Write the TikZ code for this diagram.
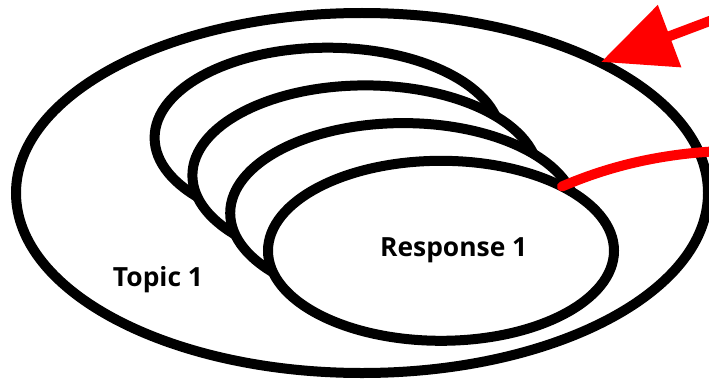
\documentclass[tikz,border=0pt]{standalone}
\usepackage{fontspec}
\setmainfont{Open Sans}
\usetikzlibrary{shapes.geometric,arrows.meta}

\begin{document}
\begin{tikzpicture}[x=0.75pt, y=-0.75pt,
  bubble/.style={ellipse, draw=black, fill=white, line width=7.5pt, inner sep=0pt, outer sep=0pt},
  lbl/.style={font=\fontsize{19.8}{23}\selectfont\bfseries, anchor=base},
  pointer/.style={draw=red, line width=7.5pt}]

% Page size (pixels of the original)
\useasboundingbox (0,0) rectangle (709,378);
\clip (0,0) rectangle (709,378);

% Define the centres of the ellipses
\coordinate (T) at (362,193);
\coordinate (A) at (327.6,137.7);
\coordinate (B) at (365.4,175.4);
\coordinate (C) at (403.2,213.1);
\coordinate (D) at (441,250.8);

% Free ends of the red lines
\coordinate (tail) at (715,19);
\coordinate (tip) at (601,62);
\coordinate (curveend) at (722,151);

% Draw the topic ellipse
\node[bubble, minimum width=519pt, minimum height=270pt] (topic) at (T) {};
\node[lbl] (topiclbl) at (158,286) {Topic 1};

% Draw the stacked responses, back to front
\node[bubble, minimum width=259.5pt, minimum height=135pt] (resp4) at (A) {};
\node[bubble, minimum width=259.5pt, minimum height=135pt] (resp3) at (B) {};
\node[bubble, minimum width=259.5pt, minimum height=135pt] (resp2) at (C) {};
\node[bubble, minimum width=259.5pt, minimum height=135pt] (resp1) at (D) {};
\node[lbl] (resplbl) at (453.7,256.7) {Response 1};

% Red curve leaving the front response
\draw[pointer, line cap=round] (resp1.28) .. controls (598,171) and (650,154) .. (curveend);

% Red arrow onto the topic
\draw[pointer, -{Triangle[length=55pt, width=48pt]}] (tail) -- (tip);

\end{tikzpicture}
\end{document}
